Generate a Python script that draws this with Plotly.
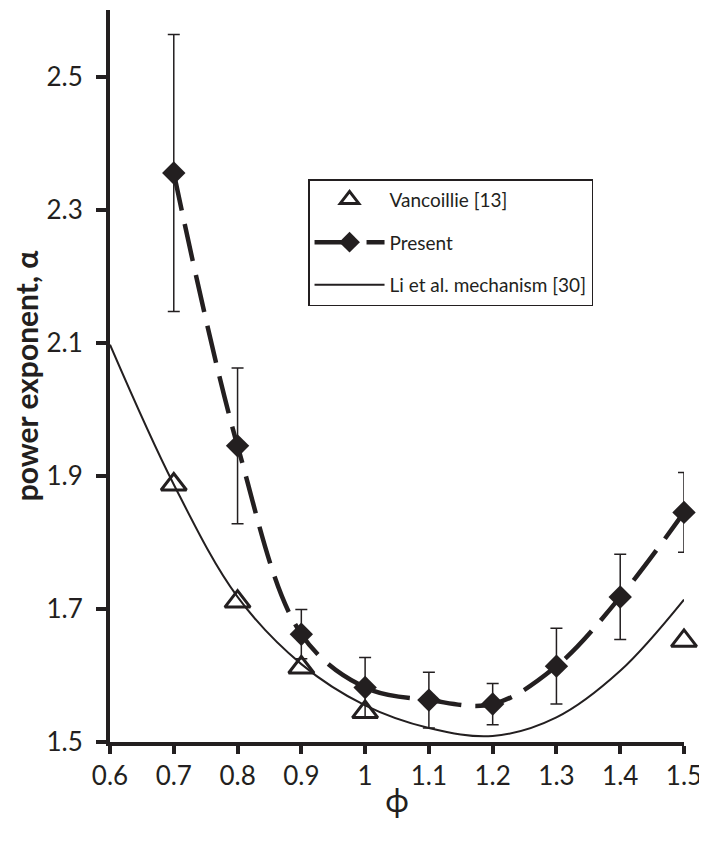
import plotly.graph_objects as go

# ---- data ----
phi_present = [0.7, 0.8, 0.9, 1.0, 1.1, 1.2, 1.3, 1.4, 1.5]
alpha_present = [2.355, 1.945, 1.662, 1.582, 1.563, 1.557, 1.614, 1.718, 1.845]
err_present = [0.208, 0.117, 0.037, 0.045, 0.042, 0.031, 0.057, 0.064, 0.060]

phi_vanc = [0.7, 0.8, 0.9, 1.0, 1.5]
alpha_vanc = [1.887, 1.711, 1.612, 1.545, 1.652]

phi_li = [0.6, 0.7, 0.8, 0.9, 1.0, 1.1, 1.2, 1.3, 1.4, 1.5]
alpha_li = [2.097, 1.887, 1.718, 1.617, 1.555, 1.521, 1.509, 1.537, 1.607, 1.714]

x_tickvals = [0.6, 0.7, 0.8, 0.9, 1.0, 1.1, 1.2, 1.3, 1.4, 1.5]
x_ticktext = ["0.6", "0.7", "0.8", "0.9", "1", "1.1", "1.2", "1.3", "1.4", "1.5"]
y_tickvals = [1.5, 1.7, 1.9, 2.1, 2.3, 2.5]
y_ticktext = ["1.5", "1.7", "1.9", "2.1", "2.3", "2.5"]

INK = "#231f20"
FONT = "Lato"

fig = go.Figure()

fig.add_trace(go.Scatter(
    x=phi_vanc, y=alpha_vanc, mode="markers", name="Vancoillie [13]",
    legendgroup="a",
    marker=dict(symbol="triangle-up-open", size=22, color=INK,
                line=dict(width=3, color=INK)),
    cliponaxis=False,
))

fig.add_trace(go.Scatter(
    x=phi_present, y=alpha_present, mode="lines+markers", name="Present",
    legendgroup="b",
    line=dict(color=INK, width=4.5, dash="38px,14px", shape="spline", smoothing=1),
    marker=dict(symbol="diamond", size=18, color=INK),
    error_y=dict(type="data", array=err_present, visible=True,
                 color=INK, thickness=1.5, width=6),
    cliponaxis=False,
))

fig.add_trace(go.Scatter(
    x=phi_li, y=alpha_li, mode="lines", name="Li et al. mechanism [30]",
    legendgroup="c",
    line=dict(color=INK, width=2, shape="spline", smoothing=1),
))

fig.update_layout(
    width=707, height=841,
    margin=dict(l=102, r=31, t=2, b=107),
    paper_bgcolor="white", plot_bgcolor="white",
    font=dict(family=FONT, color=INK),
    showlegend=True,
    legend=dict(
        x=0.345, y=0.769, xanchor="left", yanchor="top",
        bordercolor=INK, borderwidth=1.5, bgcolor="white",
        font=dict(size=19, family=FONT, color=INK),
        traceorder="grouped", tracegroupgap=15, itemwidth=70,
    ),
    xaxis=dict(
        range=[0.6, 1.5], tickvals=x_tickvals, ticktext=x_ticktext,
        showgrid=False, zeroline=False, automargin=False,
        showline=True, linecolor=INK, linewidth=4,
        ticks="outside", ticklen=8, tickwidth=4, tickcolor=INK,
        tickfont=dict(size=26, family=FONT, color=INK),
        title=dict(text="ϕ", font=dict(size=32, family=FONT, color=INK), standoff=0),
    ),
    yaxis=dict(
        range=[1.5, 2.6], tickvals=y_tickvals, ticktext=y_ticktext,
        showgrid=False, zeroline=False, automargin=False,
        showline=True, linecolor=INK, linewidth=4,
        ticks="outside", ticklen=10, tickwidth=4, tickcolor=INK,
        tickfont=dict(size=26, family=FONT, color=INK),
        ticklabelstandoff=8,
        title=dict(text="<b>power exponent, α</b>",
                   font=dict(size=30, family=FONT, color=INK), standoff=4),
    ),
)

fig.write_html("out.html")
